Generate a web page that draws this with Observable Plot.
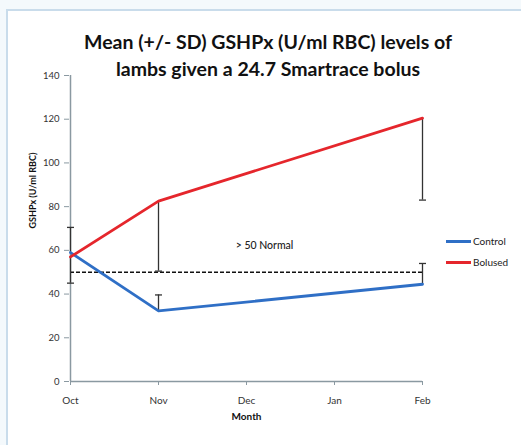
<!DOCTYPE html>
<html>
<head>
<meta charset="utf-8">
<script src="https://cdn.jsdelivr.net/npm/d3@7"></script>
<script src="https://cdn.jsdelivr.net/npm/@observablehq/plot@0.6"></script>
<style>
  html, body { margin: 0; padding: 0; }
  body { width: 521px; height: 445px; overflow: hidden; background: #f4f9fc; font-family: Lato, "Open Sans", sans-serif; }
  #wrap { position: relative; width: 521px; height: 445px; }
  #panel { position: absolute; left: 6px; top: 9px; width: 530px; height: 450px; background: #fff; border-left: 2px solid #c9dceb; border-top: 2px solid #c9dceb; }
  #title { position: absolute; left: 0; top: 28px; width: 536px; text-align: center; font-weight: 700; font-size: 19.5px; line-height: 27px; color: #111; }
  #chart { position: absolute; left: 0; top: 0; }
  .leg { position: absolute; left: 446px; font-size: 10px; color: #222; display: flex; align-items: center; }
  .leg span.sw { display: inline-block; width: 25px; height: 3px; margin-right: 2px; }
</style>
</head>
<body>
<div id="wrap">
  <div id="panel"></div>
  <div id="chart"></div>
  <div id="title">Mean (+/- SD) GSHPx (U/ml RBC) levels of<br>lambs given a 24.7 Smartrace bolus</div>
  <div class="leg" style="top:235px"><span class="sw" style="background:#2f6fc6"></span>Control</div>
  <div class="leg" style="top:256px"><span class="sw" style="background:#e5262c"></span>Bolused</div>
</div>
<script>
const months = ["Oct", "Nov", "Dec", "Jan", "Feb"];
const sampleMonths = ["Oct", "Nov", "Feb"];
const control = [59, 32.3, 44.5];
const controlSD = [11.5, 7.3, 9.5];
const bolused = [57, 82.5, 120.5];
const bolusedSD = [12, 32, 37.5];
const normalLevel = 50;
const yTicks = [0, 20, 40, 60, 80, 100, 120, 140];

const controlData = sampleMonths.map((m, i) => ({month: m, value: control[i], sd: controlSD[i], end: control[i] + controlSD[i]}));
const bolusedData = sampleMonths.map((m, i) => ({month: m, value: bolused[i], sd: bolusedSD[i], end: bolused[i] - bolusedSD[i]}));
const errData = [...controlData, ...bolusedData];

const capSymbol = { draw(ctx) { ctx.moveTo(-3.5, 0); ctx.lineTo(3.5, 0); } };
const axisGrey = "#8a99a1";
const first = months[0], last = months[months.length - 1];

const chart = Plot.plot({
  width: 521,
  height: 445,
  marginLeft: 69,
  marginRight: 98,
  marginTop: 75,
  marginBottom: 64,
  style: { background: "transparent", fontFamily: "Lato, 'Open Sans', sans-serif", fontSize: "9.5px", color: "#333" },
  x: { type: "point", domain: months, padding: 0 },
  y: { domain: [0, 140] },
  marks: [
    Plot.axisY({ ticks: yTicks, tickSize: 5, tickPadding: 5, stroke: axisGrey, label: null, fontSize: 9.5 }),
    Plot.axisX({ tickSize: 4, tickPadding: 11, stroke: axisGrey, label: null, fontSize: 10 }),
    Plot.ruleX([first], { y1: 0, y2: 140, stroke: axisGrey, strokeWidth: 1.5 }),
    Plot.ruleY([0], { x1: () => first, x2: () => last, stroke: axisGrey, strokeWidth: 1.5 }),
    Plot.ruleY([normalLevel], { x1: () => first, x2: () => last, stroke: "#111", strokeWidth: 1.6, strokeDasharray: "4,2" }),
    Plot.ruleX(errData, { x: "month", y1: "value", y2: "end", stroke: "#333", strokeWidth: 1.3 }),
    Plot.dot(errData, { x: "month", y: "end", symbol: capSymbol, r: 3, stroke: "#333", strokeWidth: 1.3, fill: "none" }),
    Plot.line(controlData, { x: "month", y: "value", stroke: "#2f6fc6", strokeWidth: 2.8 }),
    Plot.line(bolusedData, { x: "month", y: "value", stroke: "#e5262c", strokeWidth: 2.8 }),
    Plot.text(["> 50 Normal"], { x: () => "Dec", y: () => 62.3, dx: 18, fontSize: 10.5, fontWeight: 500, fill: "#222" }),
    Plot.text(["GSHPx (U/ml RBC)"], { frameAnchor: "left", rotate: -90, dx: -36, fontWeight: "bold", fontSize: 9, fill: "#111" }),
    Plot.text(["Month"], { frameAnchor: "bottom", dy: 38, fontWeight: "bold", fontSize: 10, fill: "#111" })
  ]
});
document.getElementById("chart").appendChild(chart);
</script>
</body>
</html>
